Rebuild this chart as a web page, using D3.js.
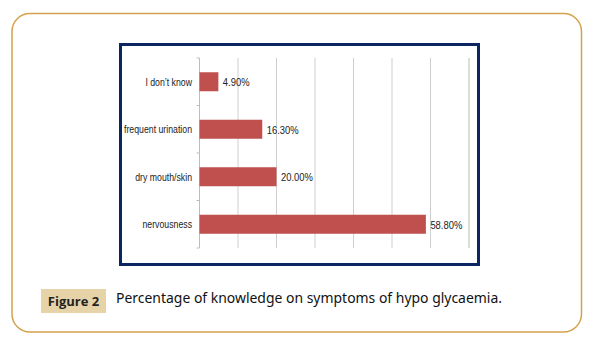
<!DOCTYPE html>
<html lang="en">
<head>
<meta charset="UTF-8">
<title>Figure 2</title>
<script src="https://d3js.org/d3.v7.min.js"></script>
<style>
  body { margin: 0; background: #fff; }
  svg { display: block; }
</style>
</head>
<body>
<div id="wrapper"></div>
<script>
// data
const categories = ["I don\u2019t know", "frequent urination", "dry mouth/skin", "nervousness"];
const values = [4.9, 16.3, 20.0, 58.8];
const gridTicks = [0, 10, 20, 30, 40, 50, 60, 70];

const W = 596, H = 347;

const svg = d3.select("#wrapper")
  .append("svg")
  .attr("width", W)
  .attr("height", H);

// outer rounded card
svg.append("rect")
  .attr("x", 12).attr("y", 13.5)
  .attr("width", 569.5).attr("height", 318.5)
  .attr("rx", 18).attr("ry", 18)
  .attr("fill", "#fff")
  .attr("stroke", "#d4a24c")
  .attr("stroke-width", 1.5);

// navy frame round the chart picture
svg.append("rect")
  .attr("x", 120.5).attr("y", 44.5)
  .attr("width", 358).attr("height", 220)
  .attr("fill", "#fff")
  .attr("stroke", "#0b2660")
  .attr("stroke-width", 3);

// plot area
const x = d3.scaleLinear().domain([0, 70]).range([199.5, 469]);
const y = d3.scaleBand().domain(categories).range([58, 248]).paddingInner(0.6).paddingOuter(0.3);

// vertical gridlines
svg.append("g")
  .selectAll("line")
  .data(gridTicks.slice(1))
  .join("line")
    .attr("x1", d => x(d)).attr("x2", d => x(d))
    .attr("y1", 58).attr("y2", 248)
    .attr("stroke", d => d === 70 ? "#b4c0ac" : "#cfcfcf")
    .attr("stroke-width", 1);

// category axis with ticks between bands
const yAxis = svg.append("g").attr("transform", "translate(199.5,0)");
yAxis.append("line")
  .attr("y1", 58).attr("y2", 248)
  .attr("stroke", "#bdbdbd");
const step = (248 - 58) / categories.length;
yAxis.selectAll("line.tick")
  .data(d3.range(categories.length + 1))
  .join("line")
    .attr("class", "tick")
    .attr("x1", -3).attr("x2", 0)
    .attr("y1", i => 58 + i * step).attr("y2", i => 58 + i * step)
    .attr("stroke", "#bdbdbd");

// category labels
svg.append("g")
  .selectAll("text")
  .data(categories)
  .join("text")
    .attr("transform", d => `translate(192,${y(d) + y.bandwidth() / 2}) scale(0.76,1)`)
    .attr("text-anchor", "end")
    .attr("dominant-baseline", "central")
    .attr("font-family", "'Liberation Sans Narrow', 'Arial Narrow', sans-serif")
    .attr("font-size", 11.5)
    .attr("fill", "#222")
    .text(d => d);

// bars
svg.append("g")
  .selectAll("rect")
  .data(values)
  .join("rect")
    .attr("x", x(0))
    .attr("y", (d, i) => y(categories[i]))
    .attr("width", d => x(d) - x(0))
    .attr("height", y.bandwidth())
    .attr("fill", "#c0504d");

// value labels
svg.append("g")
  .selectAll("text")
  .data(values)
  .join("text")
    .attr("transform", (d, i) => `translate(${x(d) + 4.5},${y(categories[i]) + y.bandwidth() / 2}) scale(0.82,1)`)
    .attr("dominant-baseline", "central")
    .attr("font-family", "'Liberation Sans Narrow', 'Arial Narrow', sans-serif")
    .attr("font-size", 11.5)
    .attr("fill", "#222")
    .text(d => d.toFixed(2) + "%");

// caption
svg.append("rect")
  .attr("x", 41).attr("y", 289)
  .attr("width", 65).attr("height", 24)
  .attr("fill", "#e6d3a8");
svg.append("text")
  .attr("x", 73.5).attr("y", 306)
  .attr("text-anchor", "middle")
  .attr("font-family", "'Open Sans', sans-serif")
  .attr("font-weight", "bold")
  .attr("font-size", 13)
  .attr("fill", "#222")
  .text("Figure 2");
svg.append("text")
  .attr("x", 116).attr("y", 303)
  .attr("font-family", "'Noto Sans', sans-serif")
  .attr("font-size", 13.5)
  .attr("fill", "#111")
  .attr("textLength", 386)
  .attr("lengthAdjust", "spacingAndGlyphs")
  .text("Percentage of knowledge on symptoms of hypo glycaemia.");
</script>
</body>
</html>
